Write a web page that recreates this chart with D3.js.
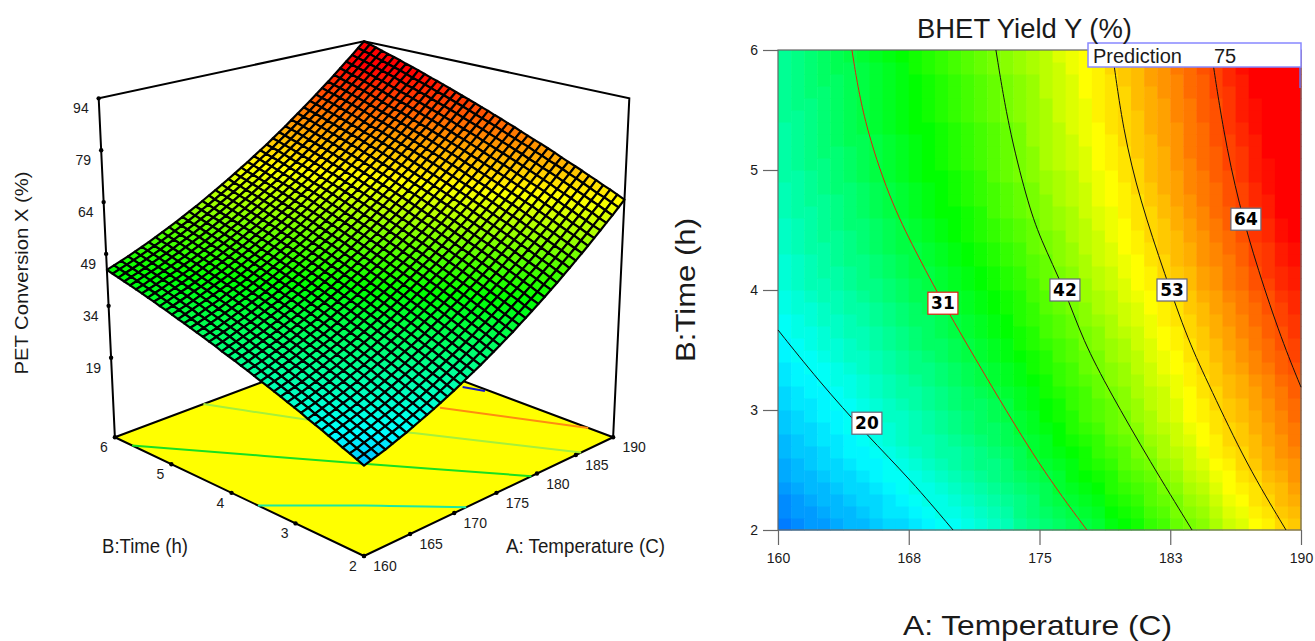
<!DOCTYPE html>
<html lang="en">
<head>
<meta charset="UTF-8">
<title>PET conversion and BHET yield</title>
<script src="https://d3js.org/d3.v7.min.js"></script>
<style>
  body { margin: 0; background: #fff; }
  text { font-family: "Liberation Sans", Arial, sans-serif; fill: #1a1a1a; }
</style>
</head>
<body>
<div id="chart"></div>
<script>
// axis ticks
const conversionTicks = [19, 34, 49, 64, 79, 94];
const temperatureTicks3d = [160, 165, 170, 175, 180, 185, 190];
const timeTicks3d = [2, 3, 4, 5, 6];
const temperatureTicks = [160, 167.5, 175, 182.5, 190];
const temperatureTickLabels = ["160", "168", "175", "183", "190"];
const timeTicks = [2, 3, 4, 5, 6];

// PET conversion X (%): rows go time 2 -> 6, columns temperature 160 -> 190
const conversion = [
[19.0,19.6,20.2,20.8,21.5,22.2,22.9,23.7,24.5,25.3,26.1,27.0,27.9,28.8,29.8,30.8,31.8,32.8,33.9,35.0,36.1,37.3,38.4,39.7,40.9,42.2,43.5,44.8,46.2,47.5,49.0,50.4,51.9,53.4,54.9,56.5,58.1,59.7,61.3,63.0,64.7],
[19.8,20.4,21.0,21.6,22.3,23.0,23.7,24.5,25.3,26.1,26.9,27.8,28.7,29.6,30.6,31.6,32.6,33.6,34.7,35.8,36.9,38.1,39.3,40.5,41.7,43.0,44.3,45.6,47.0,48.4,49.8,51.3,52.7,54.2,55.8,57.3,58.9,60.5,62.2,63.9,65.6],
[20.6,21.1,21.8,22.4,23.1,23.8,24.5,25.3,26.1,26.9,27.7,28.6,29.5,30.5,31.4,32.4,33.4,34.5,35.6,36.7,37.8,38.9,40.1,41.3,42.6,43.9,45.2,46.5,47.9,49.3,50.7,52.1,53.6,55.1,56.7,58.2,59.8,61.5,63.1,64.8,66.5],
[21.3,21.9,22.5,23.2,23.8,24.6,25.3,26.0,26.8,27.6,28.5,29.4,30.3,31.2,32.2,33.2,34.2,35.2,36.3,37.4,38.6,39.7,40.9,42.1,43.4,44.7,46.0,47.3,48.7,50.1,51.5,52.9,54.4,55.9,57.5,59.0,60.6,62.2,63.9,65.5,67.3],
[22.1,22.7,23.3,23.9,24.6,25.3,26.1,26.8,27.6,28.4,29.3,30.2,31.1,32.0,33.0,34.0,35.0,36.0,37.1,38.2,39.4,40.5,41.7,43.0,44.2,45.5,46.8,48.2,49.5,50.9,52.3,53.8,55.3,56.8,58.3,59.9,61.5,63.1,64.8,66.4,68.2],
[22.8,23.4,24.1,24.7,25.4,26.1,26.8,27.6,28.4,29.2,30.1,31.0,31.9,32.8,33.8,34.8,35.8,36.8,37.9,39.0,40.2,41.3,42.5,43.8,45.0,46.3,47.6,49.0,50.3,51.7,53.2,54.6,56.1,57.6,59.2,60.7,62.3,64.0,65.6,67.3,69.0],
[23.6,24.2,24.8,25.4,26.1,26.8,27.6,28.3,29.1,29.9,30.8,31.7,32.6,33.6,34.6,35.5,36.6,37.6,38.7,39.8,41.0,42.1,43.3,44.6,45.8,47.1,48.4,49.8,51.2,52.6,54.0,55.4,56.9,58.4,60.0,61.6,63.2,64.8,66.5,68.2,69.9],
[24.3,24.9,25.5,26.2,26.9,27.6,28.3,29.1,29.9,30.7,31.6,32.5,33.4,34.4,35.3,36.3,37.3,38.4,39.5,40.6,41.8,42.9,44.1,45.4,46.6,47.9,49.2,50.6,52.0,53.4,54.8,56.2,57.7,59.2,60.8,62.4,64.0,65.6,67.3,69.0,70.7],
[25.0,25.6,26.3,26.9,27.6,28.3,29.1,29.8,30.7,31.5,32.4,33.2,34.2,35.1,36.1,37.1,38.1,39.2,40.3,41.4,42.5,43.7,44.9,46.1,47.4,48.7,50.0,51.4,52.8,54.2,55.6,57.1,58.6,60.1,61.7,63.3,64.9,66.5,68.2,69.9,71.5],
[25.8,26.4,27.0,27.7,28.3,29.1,29.8,30.6,31.4,32.2,33.1,34.0,34.9,35.9,36.8,37.8,38.9,39.9,41.0,42.2,43.3,44.5,45.7,46.9,48.2,49.5,50.8,52.2,53.6,55.0,56.4,57.9,59.4,60.9,62.4,64.0,65.7,67.3,69.0,70.7,72.3],
[26.5,27.1,27.7,28.4,29.1,29.8,30.6,31.3,32.1,33.0,33.8,34.7,35.7,36.6,37.6,38.6,39.6,40.7,41.8,42.9,44.1,45.3,46.5,47.7,49.0,50.3,51.6,53.0,54.3,55.8,57.2,58.6,60.1,61.7,63.2,64.8,66.4,68.1,69.7,71.4,73.2],
[27.2,27.8,28.4,29.1,29.8,30.5,31.3,32.0,32.9,33.7,34.6,35.5,36.4,37.3,38.3,39.3,40.4,41.4,42.5,43.7,44.8,46.0,47.2,48.4,49.7,51.0,52.3,53.7,55.1,56.5,58.0,59.4,60.9,62.4,64.0,65.6,67.2,68.9,70.6,72.3,74.0],
[27.9,28.5,29.1,29.8,30.5,31.2,32.0,32.8,33.6,34.4,35.3,36.2,37.1,38.1,39.1,40.1,41.1,42.2,43.3,44.4,45.6,46.8,48.0,49.2,50.5,51.8,53.1,54.5,55.9,57.3,58.7,60.2,61.7,63.2,64.8,66.4,68.0,69.7,71.3,73.0,74.8],
[28.6,29.2,29.8,30.5,31.3,32.0,32.7,33.5,34.3,35.1,36.0,36.9,37.8,38.8,39.8,40.8,41.8,42.9,44.0,45.1,46.3,47.5,48.7,49.9,51.2,52.5,53.9,55.2,56.6,58.0,59.5,61.0,62.5,64.0,65.6,67.2,68.8,70.5,72.2,73.9,75.5],
[29.3,29.9,30.5,31.2,31.9,32.6,33.4,34.2,35.0,35.8,36.7,37.6,38.5,39.5,40.5,41.5,42.6,43.6,44.7,45.9,47.0,48.2,49.4,50.7,52.0,53.3,54.6,56.0,57.4,58.8,60.3,61.7,63.2,64.8,66.3,67.9,69.6,71.2,72.9,74.6,76.3],
[29.9,30.5,31.2,31.9,32.6,33.3,34.1,34.9,35.7,36.5,37.4,38.3,39.3,40.2,41.2,42.2,43.3,44.3,45.5,46.6,47.8,48.9,50.1,51.4,52.7,54.0,55.4,56.7,58.1,59.6,61.0,62.5,64.0,65.5,67.1,68.7,70.3,72.0,73.7,75.4,77.1],
[30.6,31.2,31.8,32.5,33.3,34.0,34.8,35.5,36.4,37.2,38.1,39.0,40.0,40.9,41.9,42.9,44.0,45.0,46.2,47.3,48.5,49.6,50.8,52.1,53.4,54.7,56.1,57.4,58.8,60.3,61.7,63.2,64.7,66.2,67.8,69.4,71.0,72.7,74.4,76.1,77.9],
[31.3,31.9,32.5,33.2,33.9,34.7,35.4,36.2,37.1,37.9,38.8,39.7,40.6,41.6,42.6,43.6,44.7,45.8,46.9,48.0,49.2,50.4,51.6,52.9,54.1,55.4,56.8,58.1,59.6,61.0,62.5,63.9,65.4,67.0,68.6,70.2,71.8,73.5,75.2,76.9,78.6],
[31.9,32.5,33.2,33.9,34.6,35.3,36.1,36.9,37.7,38.6,39.5,40.4,41.3,42.3,43.3,44.3,45.4,46.5,47.6,48.7,49.9,51.1,52.3,53.6,54.9,56.2,57.5,58.9,60.3,61.8,63.2,64.7,66.2,67.8,69.3,70.9,72.6,74.2,75.9,77.7,79.4],
[32.6,33.2,33.8,34.5,35.3,36.0,36.8,37.6,38.4,39.2,40.1,41.0,42.0,42.9,43.9,45.0,46.1,47.1,48.3,49.4,50.6,51.8,53.0,54.3,55.6,56.9,58.3,59.6,61.1,62.5,63.9,65.4,66.9,68.5,70.1,71.7,73.3,75.0,76.7,78.4,80.1],
[33.2,33.8,34.5,35.2,35.9,36.6,37.4,38.2,39.1,39.9,40.8,41.7,42.7,43.6,44.7,45.7,46.8,47.8,49.0,50.1,51.3,52.5,53.7,55.0,56.3,57.6,59.0,60.3,61.8,63.2,64.7,66.1,67.7,69.2,70.8,72.4,74.1,75.7,77.4,79.1,80.9],
[33.8,34.5,35.1,35.8,36.5,37.3,38.1,38.9,39.7,40.6,41.5,42.4,43.3,44.3,45.3,46.3,47.4,48.5,49.6,50.8,52.0,53.2,54.4,55.7,57.0,58.3,59.7,61.0,62.4,63.9,65.3,66.8,68.4,69.9,71.5,73.1,74.7,76.4,78.1,79.8,81.6],
[34.5,35.1,35.8,36.5,37.2,37.9,38.7,39.5,40.4,41.2,42.1,43.0,44.0,45.0,46.0,47.0,48.1,49.2,50.3,51.5,52.6,53.8,55.1,56.3,57.7,59.0,60.4,61.7,63.1,64.6,66.0,67.5,69.1,70.6,72.2,73.8,75.5,77.1,78.8,80.6,82.3],
[35.1,35.7,36.4,37.1,37.8,38.5,39.3,40.1,41.0,41.8,42.8,43.7,44.6,45.6,46.6,47.7,48.7,49.8,51.0,52.1,53.3,54.5,55.7,57.0,58.3,59.6,61.0,62.4,63.8,65.3,66.7,68.2,69.8,71.3,72.9,74.5,76.2,77.9,79.6,81.3,83.0],
[35.7,36.3,36.9,37.7,38.4,39.2,39.9,40.8,41.6,42.5,43.4,44.3,45.3,46.2,47.3,48.3,49.4,50.5,51.6,52.7,53.9,55.2,56.4,57.7,59.0,60.3,61.7,63.1,64.5,66.0,67.4,68.9,70.5,72.0,73.6,75.2,76.9,78.6,80.3,82.0,83.7],
[36.3,36.9,37.6,38.3,39.0,39.8,40.6,41.4,42.2,43.1,44.0,44.9,45.9,46.9,47.9,48.9,50.0,51.1,52.2,53.4,54.6,55.8,57.0,58.3,59.6,61.0,62.3,63.7,65.2,66.6,68.1,69.6,71.1,72.7,74.3,75.9,77.6,79.3,81.0,82.7,84.4],
[36.9,37.5,38.2,38.9,39.6,40.4,41.2,42.0,42.8,43.7,44.6,45.5,46.5,47.5,48.5,49.6,50.6,51.7,52.9,54.0,55.2,56.5,57.7,59.0,60.3,61.6,63.0,64.4,65.8,67.3,68.7,70.3,71.8,73.3,74.9,76.5,78.2,79.9,81.6,83.4,85.1],
[37.5,38.1,38.7,39.5,40.2,40.9,41.8,42.6,43.4,44.3,45.2,46.2,47.1,48.1,49.2,50.2,51.3,52.4,53.5,54.7,55.9,57.1,58.3,59.6,61.0,62.3,63.7,65.1,66.5,67.9,69.4,70.9,72.4,74.0,75.6,77.2,78.9,80.6,82.3,84.0,85.8],
[38.0,38.7,39.4,40.1,40.8,41.6,42.4,43.2,44.0,44.9,45.8,46.8,47.7,48.7,49.8,50.8,51.9,53.0,54.1,55.3,56.5,57.7,59.0,60.3,61.6,62.9,64.3,65.7,67.1,68.6,70.1,71.6,73.1,74.7,76.3,77.9,79.6,81.2,83.0,84.7,86.5],
[38.6,39.3,39.9,40.6,41.4,42.2,43.0,43.8,44.6,45.5,46.4,47.4,48.3,49.3,50.4,51.4,52.5,53.6,54.8,55.9,57.1,58.4,59.6,60.9,62.2,63.6,64.9,66.3,67.8,69.2,70.7,72.2,73.8,75.3,77.0,78.6,80.3,81.9,83.6,85.4,87.1],
[39.2,39.8,40.5,41.2,42.0,42.7,43.5,44.4,45.2,46.1,47.0,48.0,49.0,50.0,51.0,52.1,53.2,54.2,55.4,56.5,57.7,59.0,60.2,61.5,62.8,64.2,65.6,67.0,68.4,69.9,71.4,72.9,74.4,76.0,77.6,79.2,80.9,82.6,84.3,86.0,87.8],
[39.7,40.4,41.1,41.8,42.5,43.3,44.1,44.9,45.8,46.7,47.6,48.6,49.5,50.5,51.6,52.6,53.7,54.8,56.0,57.1,58.3,59.6,60.8,62.0,63.4,64.7,66.1,67.5,69.0,70.5,72.0,73.4,74.9,76.5,78.1,79.7,81.4,83.1,84.8,86.6,88.5],
[40.3,40.9,41.6,42.3,43.1,43.9,44.7,45.5,46.4,47.3,48.2,49.1,50.1,51.1,52.2,53.2,54.3,55.4,56.6,57.7,58.9,60.2,61.4,62.7,64.1,65.4,66.8,68.2,69.6,71.1,72.6,74.1,75.6,77.2,78.8,80.4,82.1,83.8,85.6,87.3,89.1],
[40.8,41.5,42.2,42.9,43.6,44.4,45.2,46.1,46.9,47.8,48.8,49.7,50.7,51.7,52.7,53.8,54.9,56.0,57.2,58.3,59.5,60.8,62.0,63.3,64.7,66.0,67.4,68.8,70.3,71.7,73.2,74.7,76.3,77.9,79.5,81.1,82.8,84.5,86.3,88.0,89.7],
[41.4,42.0,42.7,43.4,44.2,44.9,45.8,46.6,47.5,48.4,49.3,50.3,51.2,52.3,53.3,54.4,55.5,56.6,57.7,58.9,60.1,61.3,62.6,63.9,65.3,66.6,68.0,69.4,70.9,72.3,73.8,75.3,76.9,78.5,80.1,81.8,83.4,85.1,86.9,88.6,90.4],
[41.9,42.5,43.3,44.0,44.7,45.5,46.3,47.1,48.0,48.9,49.8,50.8,51.8,52.8,53.8,54.9,56.0,57.2,58.3,59.5,60.7,61.9,63.2,64.5,65.8,67.2,68.6,70.0,71.4,72.9,74.4,75.9,77.5,79.1,80.7,82.4,84.0,85.7,87.5,89.2,91.0],
[42.4,43.1,43.8,44.5,45.2,46.0,46.9,47.7,48.6,49.5,50.4,51.3,52.3,53.4,54.4,55.5,56.6,57.7,58.9,60.1,61.3,62.5,63.8,65.1,66.4,67.8,69.2,70.6,72.0,73.5,75.0,76.5,78.1,79.7,81.3,83.0,84.6,86.3,88.1,89.8,91.6],
[42.9,43.6,44.3,45.0,45.8,46.6,47.4,48.2,49.1,50.0,50.9,51.9,52.9,53.9,54.9,56.0,57.1,58.2,59.4,60.6,61.8,63.1,64.4,65.7,67.0,68.4,69.8,71.2,72.6,74.1,75.6,77.1,78.7,80.3,81.9,83.6,85.2,87.0,88.7,90.4,92.2],
[43.4,44.1,44.8,45.5,46.3,47.1,47.9,48.8,49.6,50.5,51.5,52.4,53.4,54.4,55.5,56.6,57.7,58.8,60.0,61.2,62.4,63.6,64.9,66.2,67.6,68.9,70.3,71.8,73.2,74.7,76.2,77.7,79.3,80.9,82.5,84.1,85.8,87.5,89.3,91.1,92.8],
[43.9,44.6,45.3,46.0,46.8,47.6,48.4,49.2,50.1,51.0,52.0,52.9,53.9,55.0,56.0,57.1,58.2,59.3,60.5,61.7,62.9,64.2,65.5,66.7,68.1,69.5,70.9,72.3,73.8,75.3,76.7,78.3,79.8,81.4,83.0,84.7,86.4,88.1,89.8,91.6,93.4],
[44.4,45.1,45.8,46.5,47.3,48.1,48.9,49.8,50.7,51.6,52.5,53.5,54.5,55.5,56.6,57.7,58.8,59.9,61.1,62.3,63.5,64.7,66.0,67.3,68.6,70.0,71.4,72.8,74.3,75.8,77.3,78.8,80.4,82.0,83.6,85.3,87.0,88.7,90.4,92.2,94.0]
];

// BHET yield Y (%) per map cell: rows go time 2 -> 6, columns temperature 160 -> 190
const bhetYield = [
[11,12,13,13,14,15,15,16,17,17,18,19,20,20,21,22,23,24,26,27,28,29,30,31,32,34,35,36,38,39,41,42,43,45,47,48,50,51,53,54],
[12,13,13,14,15,15,16,17,18,18,19,20,21,21,22,23,24,25,27,28,29,30,31,32,33,35,36,37,39,40,42,43,44,46,48,49,51,52,54,55],
[12,13,14,15,15,16,17,17,18,19,20,21,21,22,23,24,25,26,27,28,30,31,32,33,34,36,37,38,40,41,42,44,45,47,49,50,52,53,55,56],
[13,14,15,15,16,17,17,18,19,20,21,21,22,23,24,25,26,27,28,29,30,32,33,34,35,37,38,39,40,42,43,45,46,48,50,51,52,54,55,57],
[14,15,15,16,17,17,18,19,20,20,21,22,23,24,25,26,27,28,29,30,31,32,34,35,36,37,39,40,41,43,44,46,47,49,50,52,53,55,56,58],
[14,15,16,17,17,18,19,19,20,21,22,23,24,25,26,27,27,28,30,31,32,33,34,36,37,38,40,41,42,44,45,47,48,50,51,53,54,56,57,58],
[15,16,16,17,18,19,19,20,21,22,23,24,25,25,26,27,28,29,30,32,33,34,35,36,38,39,40,42,43,45,46,47,49,51,52,53,55,56,58,59],
[15,16,17,18,18,19,20,21,22,23,24,24,25,26,27,28,29,30,31,32,33,35,36,37,38,40,41,42,44,45,47,48,50,51,53,54,55,57,58,60],
[16,17,17,18,19,20,20,21,22,23,24,25,26,27,28,29,29,30,32,33,34,35,37,38,39,41,42,43,45,46,47,49,50,52,53,54,56,57,59,60],
[16,17,18,19,19,20,21,22,23,23,24,25,26,27,28,29,30,31,32,33,35,36,37,39,40,41,42,44,45,47,48,50,51,52,54,55,56,58,59,61],
[17,18,18,19,20,20,21,22,23,24,25,26,27,28,29,29,30,31,33,34,35,36,38,39,40,41,43,44,46,47,48,50,51,53,54,55,57,58,60,61],
[17,18,19,19,20,21,22,23,24,25,25,26,27,28,29,30,31,32,33,34,36,37,38,39,41,42,43,45,46,47,49,50,52,53,55,56,57,59,60,62],
[18,19,19,20,21,21,22,23,24,25,26,27,28,29,30,31,32,33,34,35,36,38,39,40,41,43,44,45,47,48,49,51,52,54,55,56,58,59,61,62],
[18,19,20,20,21,22,23,24,25,26,27,27,28,29,30,31,32,33,34,36,37,38,39,41,42,43,44,46,47,49,50,51,53,54,56,57,59,60,62,63],
[19,20,20,21,22,23,23,24,25,26,27,28,29,30,31,32,33,34,35,36,37,39,40,41,42,44,45,46,48,49,50,52,53,55,56,58,59,61,62,64],
[19,20,21,22,22,23,24,25,26,27,28,29,29,30,31,32,33,34,36,37,38,39,40,42,43,44,45,47,48,50,51,52,54,55,57,58,60,61,63,64],
[20,21,21,22,23,24,24,25,26,27,28,29,30,31,32,33,34,35,36,37,39,40,41,42,43,45,46,47,49,50,51,53,54,56,57,59,60,62,63,65],
[20,21,22,23,23,24,25,26,27,28,29,29,30,31,32,33,34,35,37,38,39,40,41,43,44,45,47,48,49,51,52,53,55,56,58,59,61,62,64,65],
[21,22,22,23,24,25,25,26,27,28,29,30,31,32,33,34,35,36,37,38,40,41,42,43,45,46,47,48,50,51,52,54,55,57,58,60,61,63,64,66],
[21,22,23,24,24,25,26,27,28,29,30,30,31,32,33,34,35,36,37,39,40,41,42,44,45,46,48,49,50,52,53,54,56,57,59,60,62,63,65,66],
[22,23,24,24,25,26,27,27,28,29,30,31,32,33,34,35,36,37,38,39,41,42,43,44,46,47,48,50,51,52,54,55,57,58,60,61,63,64,66,67],
[22,23,24,25,25,26,27,28,29,30,31,31,32,33,34,35,36,37,38,40,41,42,43,45,46,47,49,50,51,53,54,55,57,58,60,61,63,65,66,67],
[22,23,24,25,26,27,27,28,29,30,31,32,33,34,35,36,37,38,39,40,41,43,44,45,47,48,49,50,52,53,55,56,58,59,60,62,64,65,67,68],
[23,24,25,25,26,27,28,29,30,31,31,32,33,34,35,36,37,38,39,41,42,43,44,46,47,48,50,51,52,54,55,56,58,59,61,62,64,65,67,68],
[23,24,25,26,26,27,28,29,30,31,32,33,34,35,36,37,38,39,40,41,42,43,45,46,47,49,50,51,53,54,55,57,58,60,61,63,65,66,68,69],
[23,24,25,26,27,28,28,29,30,31,32,33,34,35,36,37,38,39,40,41,43,44,45,46,48,49,50,52,53,54,56,57,59,60,62,63,65,66,68,69],
[24,25,25,26,27,28,29,30,31,32,33,34,35,35,36,37,39,40,41,42,43,44,45,47,48,49,51,52,53,55,56,58,59,61,62,64,65,67,69,70],
[24,25,26,26,27,28,29,30,31,32,33,34,35,36,37,38,39,40,41,42,43,45,46,47,49,50,51,52,54,55,57,58,60,61,63,64,66,67,69,70],
[24,25,26,27,28,28,29,30,31,32,33,34,35,36,37,38,39,40,41,42,44,45,46,47,49,50,51,53,54,56,57,59,60,61,63,64,66,68,69,71],
[25,25,26,27,28,29,30,31,32,33,34,35,35,36,37,38,40,41,42,43,44,45,46,48,49,50,52,53,55,56,57,59,60,62,63,65,67,68,70,71],
[25,26,27,27,28,29,30,31,32,33,34,35,36,37,38,39,40,41,42,43,45,46,47,48,50,51,52,53,55,56,58,59,61,62,64,65,67,68,70,71],
[25,26,27,28,28,29,30,31,32,33,34,35,36,37,38,39,40,41,42,43,45,46,47,48,50,51,52,54,55,56,58,60,61,62,64,65,67,69,70,72],
[25,26,27,28,29,30,30,31,32,33,34,35,36,37,38,39,40,41,42,44,45,46,47,49,50,51,53,54,55,57,58,60,61,63,64,66,67,69,71,72],
[25,26,27,28,29,30,31,32,33,34,35,35,36,37,38,39,40,41,42,44,45,46,48,49,50,52,53,54,56,57,58,60,61,63,65,66,68,69,71,72],
[26,26,27,28,29,30,31,32,33,34,35,36,37,38,39,40,41,42,43,44,45,47,48,49,51,52,53,54,56,57,59,60,62,63,65,67,68,70,71,73],
[26,27,27,28,29,30,31,32,33,34,35,36,37,38,39,40,41,42,43,44,45,47,48,49,51,52,53,55,56,57,59,60,62,63,65,67,68,70,72,73],
[26,27,28,28,29,30,31,32,33,34,35,36,37,38,39,40,41,42,43,44,46,47,48,50,51,52,53,55,56,58,59,61,62,64,65,67,69,70,72,73],
[26,27,28,29,29,30,31,32,33,34,35,36,37,38,39,40,41,42,43,44,46,47,48,50,51,52,54,55,57,58,59,61,62,64,66,67,69,70,72,74],
[26,27,28,29,30,30,31,32,33,34,36,37,38,39,40,41,42,43,44,45,46,47,49,50,51,53,54,55,57,58,60,61,63,64,66,68,69,71,73,74],
[26,27,28,29,30,31,32,33,34,35,36,37,38,39,40,41,42,43,44,45,46,48,49,50,52,53,54,56,57,58,60,61,63,64,66,68,69,71,73,74]
];

// contours on the map: [temperature, time]
const yieldContours = [
  { level: 20, color: "#111", points: [[160, 3.667], [162.29, 3.25], [165.1, 2.79], [167.6, 2.42], [170.04, 2]] },
  { level: 31, color: "#e02010", points: [[164.24, 6], [164.88, 5.42], [166.42, 4.75], [167.86, 4.33], [169.46, 3.89], [171.87, 3.29], [175.03, 2.525], [177.72, 2]] },
  { level: 42, color: "#111", points: [[172.5, 6], [173.2, 5.37], [174.28, 4.75], [175.03, 4.43], [176.46, 4], [177.49, 3.58], [179.04, 3.15], [181.34, 2.57], [183.75, 2]] },
  { level: 53, color: "#111", points: [[179.16, 6], [179.79, 5.33], [180.76, 4.75], [182.2, 4.125], [183.52, 3.58], [184.78, 3.19], [186.9, 2.54], [189.14, 2]] },
  { level: 64, color: "#111", points: [[184.84, 6], [185.53, 5.33], [186.44, 4.71], [187.53, 4.17], [188.9, 3.58], [190, 3.19]] }
];
// where the value boxes sit on those contours: [temperature, time]
const contourLabels = [
  { level: 20, at: [165.1, 2.89], color: "#667" },
  { level: 31, at: [169.46, 3.89], color: "#e02010" },
  { level: 42, at: [176.46, 4], color: "#667" },
  { level: 53, at: [182.6, 4], color: "#667" },
  { level: 64, at: [186.84, 4.59], color: "#667" }
];
const prediction = 75;

// contours on the floor of the 3D box: [temperature, time]
const floorContours = [
  { color: "#1ce8a0", points: [[160, 3.58], [165.9, 2.79], [167.3, 2.59], [171.4, 2]] },
  { color: "#18e020", points: [[160, 5.69], [171.3, 3.51], [179.3, 2]] },
  { color: "#a6f03a", points: [[169.9, 6], [173.9, 4.86], [178.6, 3.68], [185.7, 2]] },
  { color: "#ff8c10", points: [[184.1, 3.95], [190, 2.36]] },
  { color: "#1818c8", points: [[188.95, 4.18], [189.7, 3.91]] }
];

const width = 1315, height = 641;
const svg = d3.select("#chart").append("svg").attr("width", width).attr("height", height)
  .style("display", "block");

// ---------- left panel: 3D surface ----------
const u = d3.scaleLinear().domain([160, 190]).range([0, 1]);
const v = d3.scaleLinear().domain([2, 6]).range([0, 1]);
const w = d3.scaleLinear().domain([-4, 94]).range([0, 1]);

// perspective view from the (160, 2) corner
function project(temp, time, value) {
  const a = u(temp), b = v(time), z = w(value);
  const across = a - b, depth = a + b;
  const s = 1 / (1 + 0.136 * depth);
  return [364 + 283 * across * s * (1 + 0.065 * z), -436 + s * (992 - 385 * z)];
}

const left = svg.append("g");
const line3d = d3.line();
const floorValue = w.domain()[0], topValue = w.domain()[1];

// back walls, top edges
left.append("path")
  .attr("d", line3d([[160, 6, floorValue], [160, 6, topValue], [190, 6, topValue], [190, 2, topValue], [190, 2, floorValue]].map(d => project(...d))))
  .attr("fill", "none").attr("stroke", "#000").attr("stroke-width", 2);
left.append("path")
  .attr("d", line3d([[190, 6, topValue], [190, 6, floorValue]].map(d => project(...d))))
  .attr("stroke", "#000").attr("stroke-width", 2);

// floor
left.append("path")
  .attr("d", line3d([[160, 2], [190, 2], [190, 6], [160, 6]].map(d => project(d[0], d[1], floorValue))) + "Z")
  .attr("fill", "#ffff00").attr("stroke", "#000").attr("stroke-width", 2).attr("stroke-linejoin", "round");

const floorCurve = d3.line().curve(d3.curveCatmullRom);
left.selectAll(".floor-contour").data(floorContours).join("path")
  .attr("class", "floor-contour")
  .attr("d", d => floorCurve(d.points.map(p => project(p[0], p[1], floorValue))))
  .attr("fill", "none").attr("stroke", d => d.color).attr("stroke-width", 2);

// ticks on the box
left.selectAll(".z-tick").data(conversionTicks).join("circle")
  .attr("class", "z-tick")
  .attr("cx", d => project(160, 6, d)[0]).attr("cy", d => project(160, 6, d)[1])
  .attr("r", 2.2).attr("fill", "#000");
left.selectAll(".z-label").data(conversionTicks).join("text")
  .attr("class", "z-label")
  .attr("x", d => project(160, 6, d)[0] - 10).attr("y", d => project(160, 6, d)[1] + 15)
  .attr("text-anchor", "end").attr("font-size", 14).text(d => d);

left.selectAll(".a-tick").data(temperatureTicks3d).join("circle")
  .attr("class", "a-tick")
  .attr("cx", d => project(d, 2, floorValue)[0]).attr("cy", d => project(d, 2, floorValue)[1])
  .attr("r", 2.2).attr("fill", "#000");
left.selectAll(".a-label").data(temperatureTicks3d).join("text")
  .attr("class", "a-label")
  .attr("x", d => project(d, 2, floorValue)[0] + 21).attr("y", d => project(d, 2, floorValue)[1] + 15)
  .attr("text-anchor", "middle").attr("font-size", 14).text(d => d);

left.selectAll(".b-tick").data(timeTicks3d).join("circle")
  .attr("class", "b-tick")
  .attr("cx", d => project(160, d, floorValue)[0]).attr("cy", d => project(160, d, floorValue)[1])
  .attr("r", 2.2).attr("fill", "#000");
left.selectAll(".b-label").data(timeTicks3d).join("text")
  .attr("class", "b-label")
  .attr("x", d => project(160, d, floorValue)[0] - 11).attr("y", d => project(160, d, floorValue)[1] + 15)
  .attr("text-anchor", "middle").attr("font-size", 14).text(d => d);

// mesh, back to front
const meshColor = d3.scaleLinear()
  .domain([8, 23, 44, 64, 88])
  .range(["#0000ff", "#00ffff", "#00ff00", "#ffff00", "#ff0000"])
  .clamp(true);
const meshTemp = d3.scaleLinear().domain([0, conversion[0].length - 1]).range([160, 190]);
const meshTime = d3.scaleLinear().domain([0, conversion.length - 1]).range([2, 6]);

const quads = [];
for (let i = 0; i < conversion.length - 1; i++) {
  for (let j = 0; j < conversion[i].length - 1; j++) {
    quads.push({
      i, j,
      mean: d3.mean([conversion[i][j], conversion[i][j + 1], conversion[i + 1][j], conversion[i + 1][j + 1]]),
      corners: [[i, j], [i, j + 1], [i + 1, j + 1], [i + 1, j]]
    });
  }
}
quads.sort((p, q) => (q.i + q.j) - (p.i + p.j));

left.append("g").selectAll("path").data(quads).join("path")
  .attr("d", d => line3d(d.corners.map(c => project(meshTemp(c[1]), meshTime(c[0]), conversion[c[0]][c[1]]))) + "Z")
  .attr("fill", d => meshColor(d.mean))
  .attr("stroke", "#000").attr("stroke-width", 2.2).attr("stroke-linejoin", "round");

// titles: squeezed or stretched to the reference's widths
function fittedText(parent, str, x, y, size, length, rotate) {
  const t = parent.append("text").attr("font-size", size)
    .attr("textLength", length).attr("lengthAdjust", "spacingAndGlyphs").text(str);
  if (rotate) t.attr("transform", `translate(${x},${y}) rotate(-90)`).attr("text-anchor", "middle");
  else t.attr("x", x).attr("y", y);
  return t;
}
fittedText(left, "PET Conversion X (%)", 28, 273, 18, 203, true);
fittedText(left, "B:Time (h)", 102, 553, 20, 86);
fittedText(left, "A: Temperature (C)", 506, 553, 20, 159);

// ---------- right panel: contour map ----------
const right = svg.append("g");
const x = d3.scaleLinear().domain([160, 190]).range([778, 1301]);
const y = d3.scaleLinear().domain([2, 6]).range([530, 50]);
const colBand = d3.scaleBand().domain(d3.range(bhetYield[0].length)).range(x.range());
const rowBand = d3.scaleBand().domain(d3.range(bhetYield.length)).range(y.range());
const heat = d3.scaleLinear()
  .domain([3, 19.5, 35, 50, 69])
  .range(["#0000ff", "#00ffff", "#00ff00", "#ffff00", "#ff0000"])
  .clamp(true);

right.append("g").selectAll("g").data(bhetYield).join("g")
  .attr("transform", (d, i) => `translate(0,${rowBand(i)})`)
  .selectAll("rect").data(d => d).join("rect")
  .attr("x", (d, j) => colBand(j))
  .attr("width", colBand.bandwidth() + 0.5)
  .attr("height", rowBand.bandwidth() + 0.5)
  .attr("fill", d => heat(d));

right.append("rect")
  .attr("x", x(160)).attr("y", y(6)).attr("width", x(190) - x(160)).attr("height", y(2) - y(6))
  .attr("fill", "none").attr("stroke", "#666").attr("stroke-width", 1.2);

const xAxis = d3.axisBottom(x).tickValues(temperatureTicks).tickFormat((d, i) => temperatureTickLabels[i])
  .tickSize(15).tickSizeOuter(0);
const yAxis = d3.axisLeft(y).tickValues(timeTicks).tickFormat(d3.format("d")).tickSize(15).tickSizeOuter(0);
const gx = right.append("g").attr("transform", `translate(0,${y(2)})`).call(xAxis);
const gy = right.append("g").attr("transform", `translate(${x(160)},0)`).call(yAxis);
[gx, gy].forEach(g => {
  g.select(".domain").remove();
  g.selectAll("line").attr("stroke", "#666").attr("stroke-width", 1.2);
  g.selectAll("text").attr("font-size", 14).attr("font-family", null).style("fill", "#1a1a1a");
});
gx.selectAll("text").attr("dy", "0.9em").attr("y", 20);
gy.selectAll("text").attr("x", -20);

const contourLine = d3.line().x(d => x(d[0])).y(d => y(d[1])).curve(d3.curveBasis);
right.selectAll(".contour").data(yieldContours).join("path")
  .attr("class", "contour").attr("d", d => contourLine(d.points))
  .attr("fill", "none").attr("stroke", d => d.color).attr("stroke-width", 1);

const labelG = right.selectAll(".contour-label").data(contourLabels).join("g")
  .attr("class", "contour-label")
  .attr("transform", d => `translate(${x(d.at[0])},${y(d.at[1])})`);
labelG.append("rect").attr("x", -15).attr("y", -11).attr("width", 30).attr("height", 22)
  .attr("fill", "#fff").attr("stroke", d => d.color).attr("stroke-width", 1.2);
labelG.append("text").attr("text-anchor", "middle").attr("y", 6)
  .attr("font-size", 17).attr("font-weight", "bold")
  .style("font-family", "'DejaVu Sans'").style("fill", "#000").text(d => d.level);

// prediction flag
right.append("path")
  .attr("d", d3.line()([[x(190) - 1, 67], [x(190) - 1, 88]]))
  .attr("stroke", "#6f6fe8").attr("stroke-width", 1.5).attr("fill", "none");
right.append("rect").attr("x", 1088).attr("y", 43).attr("width", 213).attr("height", 24)
  .attr("fill", "#fff").attr("stroke", "#8888ff").attr("stroke-width", 1.5);
right.append("text").attr("x", 1093).attr("y", 63).attr("font-size", 20).text("Prediction");
right.append("text").attr("x", 1214).attr("y", 63).attr("font-size", 20).text(prediction);

// titles of the right panel
fittedText(right, "BHET Yield Y (%)", 917, 38, 27, 215);
fittedText(right, "A: Temperature (C)", 903, 635, 28, 269);
fittedText(right, "B:Time (h)", 695, 290, 28, 144, true);
</script>
</body>
</html>
